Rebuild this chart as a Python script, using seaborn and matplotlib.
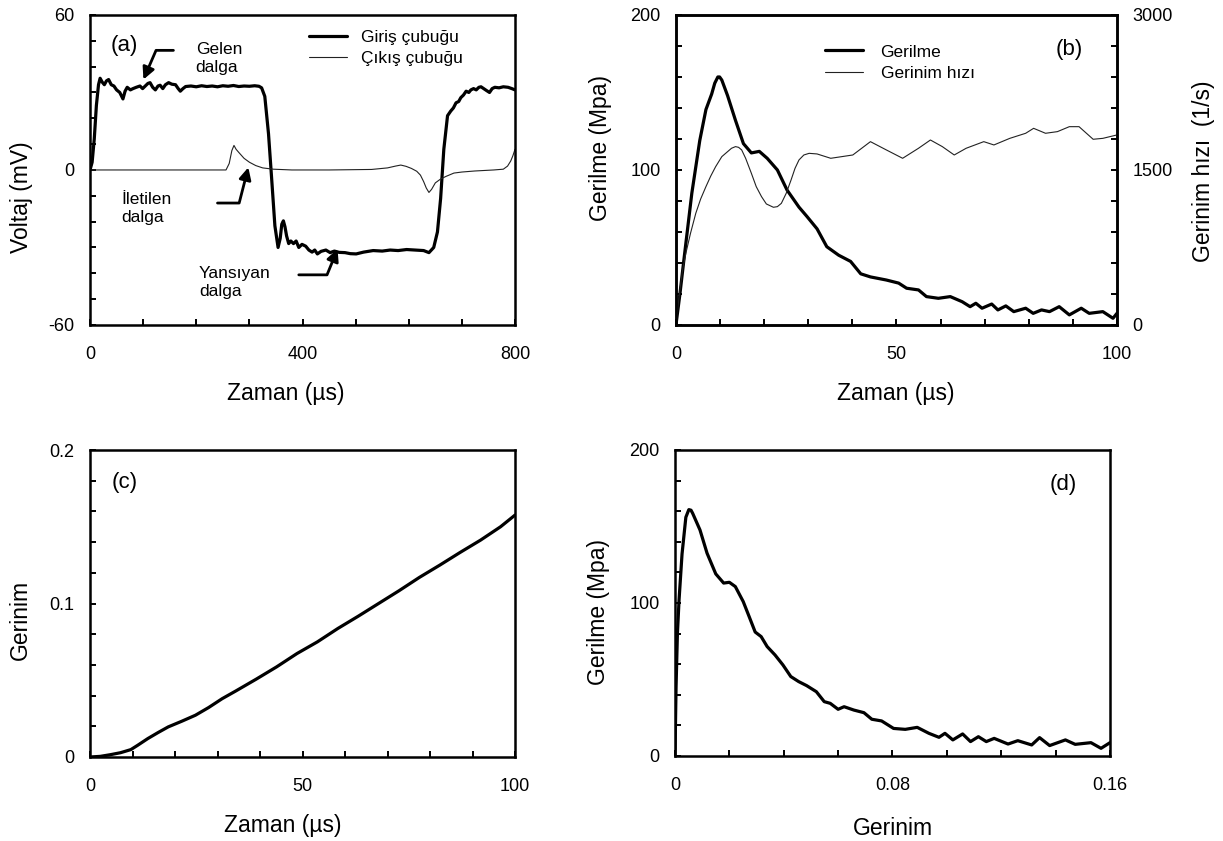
import numpy as np
import matplotlib
matplotlib.use("Agg")
import matplotlib.pyplot as plt
import seaborn as sns

# (a) bar signals: time (µs) and voltage (mV)
t_giris = [0, 4, 8, 12, 16, 19, 23, 27, 31, 35,
           40, 45, 50, 56, 62, 66, 70, 76, 81, 87,
           94, 99, 104, 109, 113, 118, 123, 128, 132, 137,
           142, 148, 154, 161, 166, 170, 175, 180, 190, 200,
           210, 220, 230, 240, 250, 260, 270, 280, 290, 300,
           310, 318, 323, 329, 336, 342, 348, 354, 358, 361,
           364, 367, 370, 374, 378, 383, 388, 393, 399, 406,
           412, 418, 423, 428, 435, 444, 452, 460, 469, 480,
           490, 501, 515, 533, 550, 565, 580, 596, 612, 628,
           638, 647, 654, 660, 666, 673, 679, 684, 689, 694,
           698, 703, 708, 713, 717, 722, 727, 732, 736, 741,
           746, 752, 757, 762, 770, 778, 787, 794, 800]
v_giris = [0, 3, 12, 25, 33, 35.5, 34, 33, 34.5, 35,
           33, 32.5, 31, 30, 27.5, 30.5, 32, 31, 31.5, 32,
           32.5, 31.5, 32.5, 33.5, 33.8, 32, 31, 32.5, 32.8, 31.5,
           33, 33.8, 33.2, 33, 31.5, 30.5, 31.5, 32.3, 32.5, 32.2,
           32.6, 32.3, 32.5, 32.2, 32.6, 32.4, 32.7, 32.3, 32.5, 32.4,
           32.6, 32.4, 31.8, 28.5, 14, -3.6, -21.6, -30, -26.5, -21,
           -19.7, -22, -25.5, -28.5, -27.5, -28.5, -27.5, -30, -28.8, -29.5,
           -31, -31.8, -31, -32.5, -31.5, -31, -32, -31.4, -31.9, -32,
           -32.4, -32.5, -31.8, -31.2, -31.4, -31, -31.2, -30.8, -31, -31.2,
           -32, -30, -24, -11, 8, 21, 22.8, 24, 26, 26.5,
           28, 29, 30.5, 30, 31, 31.5, 31, 32, 32.2, 31.5,
           30.8, 30, 31.5, 32, 31.8, 32.2, 32, 31.5, 31]
t_cikis = [0, 256, 262, 267, 271, 275, 280, 290, 300, 312,
           325, 345, 380, 450, 530, 560, 575, 585, 595, 605,
           615, 622, 628, 633, 638, 643, 650, 660, 670, 685,
           700, 724, 760, 778, 786, 792, 796, 800]
v_cikis = [0, 0, 2.5, 7.5, 9.5, 8, 6.8, 4.5, 3, 1.7,
           0.8, 0.3, 0, 0, 0.2, 0.8, 1.5, 1.9, 1.4, 0.6,
           -0.5, -2, -4.5, -7, -8.7, -7.5, -5, -3.5, -2.5, -1.2,
           -0.8, -0.4, 0, 0.3, 1.5, 3.5, 5.5, 8]

# (b) stress (MPa) and strain rate (1/s) vs time (µs)
t_gerilme = [0, 0.9, 1.8, 3.6, 5.4, 6.8, 8.1, 8.8, 9.5, 9.9, 10.4, 11.7,
             13.5, 15.3, 17.1, 18.9, 20.7, 23, 25.2, 27.9, 29.7, 32,
             34.2, 36.9, 39.6, 41.9, 44.1, 45.9, 47.7, 50.5, 52.3, 55,
             56.8, 59.5, 62.2, 64.9, 66.7, 68, 69.4, 71.6, 73, 74.8,
             76.6, 79.3, 81, 82.9, 84.7, 86.9, 89.2, 91.9, 93.7, 96.8,
             99.1, 100]
gerilme_b = [0, 20, 42, 85, 119, 139, 149, 156, 160, 160, 158, 148,
             132, 117, 111, 112, 107.5, 100, 87, 76, 70, 62,
             50.5, 45, 41, 33, 31, 30, 29, 27, 23.7, 22.6,
             18.3, 17.2, 18.3, 15, 11.8, 14, 10.8, 13.5, 9.7, 12.3,
             8.6, 10.8, 7.5, 9.7, 8.6, 11.8, 6.5, 10.8, 7.5, 8.6,
             4.3, 7.5]
t_hiz = [0, 0.45, 0.9, 1.5, 2.25, 3.3, 4.5, 5.6, 6.8, 7.9,
         9, 10.4, 11.7, 12.6, 13.5, 14.2, 14.9, 15.8, 17.1, 18.2,
         19.4, 20.5, 22.1, 23, 23.9, 25, 26.1, 27, 27.9, 29,
         30.2, 32, 35.1, 40.1, 44.1, 47.7, 51.4, 55, 57.7, 60.4,
         63.1, 65.8, 69.8, 72.1, 75.7, 79.3, 81.1, 83.8, 86.5, 89.2,
         91.4, 94.6, 96.8, 100]
hiz = [0, 177, 339, 532, 694, 887, 1081, 1219, 1339, 1442,
       1532, 1629, 1677, 1710, 1726, 1719, 1694, 1613, 1468, 1339,
       1242, 1171, 1139, 1145, 1177, 1274, 1403, 1516, 1597, 1645,
       1661, 1655, 1613, 1645, 1774, 1694, 1613, 1710, 1790, 1726,
       1645, 1710, 1774, 1742, 1806, 1855, 1903, 1855, 1871, 1919,
       1919, 1797, 1806, 1839]

# (c) strain vs time (µs)
t_gerinim = [0, 2.4, 4.8, 7.2, 9.6, 11.2, 13.6, 16, 18.4, 21.6,
             24.8, 27.9, 31.1, 34.3, 39.1, 43.9, 48.7, 53.5, 58.3, 63.1,
             67.9, 72.7, 77.5, 82.3, 87.1, 91.9, 96.6, 100]
gerinim_c = [0, 0.0004, 0.0015, 0.0028, 0.0048, 0.0076, 0.012, 0.0159, 0.0196, 0.0233,
             0.0272, 0.0322, 0.038, 0.043, 0.0507, 0.0587, 0.0674, 0.075, 0.0837, 0.0917,
             0.1, 0.1083, 0.117, 0.125, 0.1333, 0.1413, 0.15, 0.1576]

# (d) stress (MPa) vs strain
gerinim_d = [0, 0.0004, 0.0009, 0.0015, 0.0026, 0.004, 0.0051, 0.0059, 0.0065, 0.0092, 0.0118,
             0.015, 0.0179, 0.02, 0.0222, 0.0251, 0.0273, 0.0295, 0.0317, 0.0339, 0.0368,
             0.0397, 0.0426, 0.0455, 0.0484, 0.052, 0.0549, 0.0571, 0.06, 0.0622, 0.0658,
             0.0695, 0.0724, 0.076, 0.0804, 0.0847, 0.0891, 0.0934, 0.0971, 0.0993, 0.1022,
             0.1058, 0.1087, 0.1116, 0.1145, 0.1174, 0.1225, 0.1261, 0.1312, 0.1341, 0.1378,
             0.1436, 0.1472, 0.153, 0.1567, 0.16]
gerilme_d = [0, 45, 80, 102, 132, 156, 161, 160.6, 158.6, 147.7, 132.5,
             119, 113, 113.5, 110.7, 100.9, 91, 81, 78, 71.5, 66,
             59.5, 51.9, 48.6, 46, 42, 35.5, 34.4, 30.5, 32.2, 30,
             28.3, 24, 22.9, 18, 17.4, 18.7, 14.8, 12.2, 14.8, 10.5,
             14.4, 9.4, 12.6, 9.4, 11.5, 7.8, 10, 7.2, 12, 6.8,
             10.5, 7.6, 8.7, 5, 8.7]

sns.set_theme(style="ticks")
plt.rcParams["font.family"] = ["Liberation Sans", "DejaVu Sans"]
plt.rcParams.update({
    "axes.linewidth": 1.8, "axes.edgecolor": "black", "axes.labelcolor": "black",
    "text.color": "black", "xtick.color": "black", "ytick.color": "black",
    "xtick.direction": "in", "ytick.direction": "in",
    "xtick.major.size": 4.5, "ytick.major.size": 4.5,
    "xtick.major.width": 1.4, "ytick.major.width": 1.4,
    "xtick.major.pad": 15, "ytick.major.pad": 11,
    "xtick.labelsize": 13, "ytick.labelsize": 13, "axes.labelsize": 16.5,
    "lines.solid_joinstyle": "round", "lines.solid_capstyle": "round",
})

THICK, THIN = 2.3, 0.8


def set_ticks(axis, lo, hi, step, shown):
    vals = np.arange(lo, hi + step / 2, step)
    axis.set_ticks(vals, labels=[shown.get(round(v, 4), "") for v in vals])


fig = plt.figure(figsize=(12.23, 8.41), dpi=100)
ax_a = fig.add_axes([0.0736, 0.6136, 0.3475, 0.3686])
ax_b = fig.add_axes([0.5527, 0.6136, 0.3606, 0.3686])
ax_c = fig.add_axes([0.0736, 0.0999, 0.3475, 0.3650])
ax_d = fig.add_axes([0.5519, 0.1011, 0.3557, 0.3639])

# ---- (a)
sns.lineplot(x=t_giris, y=v_giris, ax=ax_a, color="black", lw=THICK, sort=False, label="Giriş çubuğu")
sns.lineplot(x=t_cikis, y=v_cikis, ax=ax_a, color="#222222", lw=THIN, sort=False, label="Çıkış çubuğu")
ax_a.set_xlim(0, 800)
ax_a.set_ylim(-60, 60)
set_ticks(ax_a.xaxis, 0, 800, 100, {0: "0", 400: "400", 800: "800"})
set_ticks(ax_a.yaxis, -60, 60, 10, {-60: "-60", 0: "0", 60: "60"})
ax_a.set_xlabel("Zaman (µs)")
ax_a.set_ylabel("Voltaj (mV)")
ax_a.xaxis.set_label_coords(0.461, -0.185)
ax_a.yaxis.set_label_coords(-0.134, 0.413)
ax_a.legend(loc="upper left", bbox_to_anchor=(0.515, 0.952), frameon=False, fontsize=12.5,
            handlelength=2.2, handletextpad=0.8, labelspacing=0.35, borderpad=0, borderaxespad=0)
ax_a.text(0.048, 0.901, "(a)", transform=ax_a.transAxes, fontsize=16, va="center")

arrow = dict(arrowstyle="-|>", color="black", lw=2, mutation_scale=18, shrinkA=0, shrinkB=0)
notes = [("Gelen\ndalga", (199, 43), (157, 46.3), (100.5, 35), 66.6),
         ("İletilen\ndalga", (59, -15), (240, -12.8), (298, 1.0), 75.6),
         ("Yansıyan\ndalga", (205, -43.5), (393, -40.6), (466, -30.6), 67.8)]
for txt, txt_xy, start, tip, ang in notes:
    ax_a.text(*txt_xy, txt, fontsize=12.5, ha="left", va="center", linespacing=1.25)
    ax_a.annotate("", xy=tip, xytext=start,
                  arrowprops=dict(arrow, connectionstyle=f"angle,angleA=0,angleB={ang},rad=0"))

# ---- (b)
ax_b2 = ax_b.twinx()
sns.lineplot(x=t_gerilme, y=gerilme_b, ax=ax_b, color="black", lw=THICK, sort=False,
             label="Gerilme", legend=False)
sns.lineplot(x=t_hiz, y=hiz, ax=ax_b2, color="#222222", lw=THIN, sort=False,
             label="Gerinim hızı", legend=False)
ax_b.set_xlim(0, 100)
ax_b.set_ylim(0, 200)
ax_b2.set_ylim(0, 3000)
set_ticks(ax_b.xaxis, 0, 100, 10, {0: "0", 50: "50", 100: "100"})
set_ticks(ax_b.yaxis, 0, 200, 20, {0: "0", 100: "100", 200: "200"})
set_ticks(ax_b2.yaxis, 0, 3000, 300, {0: "0", 1500: "1500", 3000: "3000"})
ax_b2.tick_params(axis="y", direction="in", length=4.5, width=1.4, pad=11, labelsize=13)
ax_b.set_xlabel("Zaman (µs)")
ax_b.set_ylabel("Gerilme (Mpa)")
ax_b2.set_ylabel("Gerinim hızı  (1/s)", fontsize=16.5)
ax_b.xaxis.set_label_coords(0.498, -0.185)
ax_b.yaxis.set_label_coords(-0.145, 0.571)
ax_b2.yaxis.set_label_coords(1.17, 0.497)
h1, l1 = ax_b.get_legend_handles_labels()
h2, l2 = ax_b2.get_legend_handles_labels()
ax_b2.legend(h1 + h2, l1 + l2, loc="upper left", bbox_to_anchor=(0.338, 0.905), frameon=False,
             fontsize=12.5, handlelength=2.2, handletextpad=1.0, labelspacing=0.35,
             borderpad=0, borderaxespad=0)
ax_b.text(0.86, 0.887, "(b)", transform=ax_b.transAxes, fontsize=16, va="center")

# ---- (c)
sns.lineplot(x=t_gerinim, y=gerinim_c, ax=ax_c, color="black", lw=THICK, sort=False)
ax_c.set_xlim(0, 100)
ax_c.set_ylim(0, 0.2)
set_ticks(ax_c.xaxis, 0, 100, 10, {0: "0", 50: "50", 100: "100"})
set_ticks(ax_c.yaxis, 0, 0.2, 0.02, {0: "0", 0.1: "0.1", 0.2: "0.2"})
ax_c.set_xlabel("Zaman (µs)")
ax_c.set_ylabel("Gerinim")
ax_c.xaxis.set_label_coords(0.453, -0.185)
ax_c.yaxis.set_label_coords(-0.136, 0.446)
ax_c.text(0.052, 0.895, "(c)", transform=ax_c.transAxes, fontsize=16, va="center")

# ---- (d)
sns.lineplot(x=gerinim_d, y=gerilme_d, ax=ax_d, color="black", lw=THICK, sort=False)
ax_d.set_xlim(0, 0.16)
ax_d.set_ylim(0, 200)
set_ticks(ax_d.xaxis, 0, 0.16, 0.02, {0: "0", 0.08: "0.08", 0.16: "0.16"})
set_ticks(ax_d.yaxis, 0, 200, 20, {0: "0", 100: "100", 200: "200"})
ax_d.set_xlabel("Gerinim")
ax_d.set_ylabel("Gerilme (Mpa)")
ax_d.xaxis.set_label_coords(0.502, -0.2)
ax_d.yaxis.set_label_coords(-0.149, 0.47)
ax_d.text(0.861, 0.886, "(d)", transform=ax_d.transAxes, fontsize=16, va="center")

fig.savefig("out.png", dpi=100)
